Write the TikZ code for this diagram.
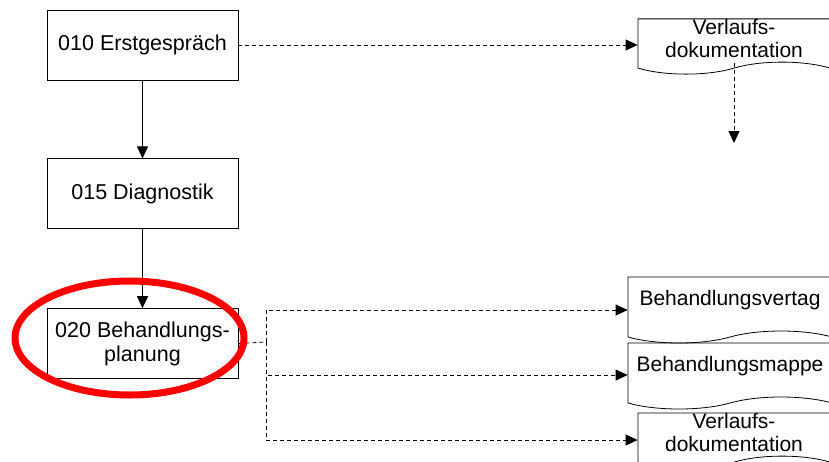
\documentclass[tikz,border=0pt]{standalone}
\usepackage{fontspec}
\setmainfont{Liberation Sans}
\usetikzlibrary{positioning,shapes.symbols,shapes.geometric,arrows.meta}
\tikzset{
  proc/.style={rectangle,draw=black,line width=0.8pt,minimum width=191pt,minimum height=70pt,align=center,font=\fontsize{21.5}{24}\selectfont},
  doc/.style={tape,tape bend top=none,tape bend bottom=in and out,tape bend height=12pt,draw=black,line width=0.8pt,align=center,inner xsep=1pt,inner ysep=0pt,font=\fontsize{21}{23}\selectfont},
  line/.style={draw,line width=0.8pt,-{Triangle[length=12pt,width=11pt]}},
  dline/.style={draw,line width=0.8pt,dash pattern=on 4pt off 3pt},
  darrow/.style={dline,-{Triangle[length=12pt,width=11pt]}},
  hilite/.style={ellipse,draw=red,line width=7pt,minimum width=229pt,minimum height=114pt},
}
\begin{document}
\begin{tikzpicture}[x=1pt,y=-1pt]
  \clip (0,0) rectangle (829,461);
  % process steps
  \node[proc] (e010) at (142.5,45) {010 Erstgespräch};
  \node[proc,below=78pt of e010] (e015) {015 Diagnostik};
  \node[proc,below=79pt of e015] (e020) {020 Behandlungs-\\planung};
  % documents
  \node[doc,text depth=5pt,minimum width=192pt,minimum height=55pt] (verl1) at (734,40.5) {Verlaufs-\\dokumentation};
  \node[doc,text depth=13pt,minimum width=204pt,minimum height=66pt] (vertrag) at (730,304) {Behandlungsvertag};
  \node[doc,text depth=13pt,minimum width=204pt,minimum height=66pt] (mappe) at (730,370) {Behandlungsmappe};
  \node[doc,text depth=5pt,minimum width=192pt,minimum height=55pt] (verl2) at (734,434.5) {Verlaufs-\\dokumentation};
  \coordinate (verl1end) at (734,143);
  \coordinate (split) at (266,342);
  % flow
  \path[line] (e010) -- (e015);
  \path[line] (e015) -- (e020);
  \path[darrow] (e010.east) -- (e010.east -| verl1.west);
  \path[darrow] (verl1.south) -- (verl1end);
  \path[dline] (e020.east) -- (split);
  \path[darrow] (split) |- ([yshift=-6pt]vertrag.west);
  \path[darrow] (split) |- ([yshift=-5pt]mappe.west);
  \path[darrow] (split) |- ([yshift=-5.5pt]verl2.west);
  % highlight
  \node[hilite] (ring) at (129.5,338) {};
\end{tikzpicture}
\end{document}
